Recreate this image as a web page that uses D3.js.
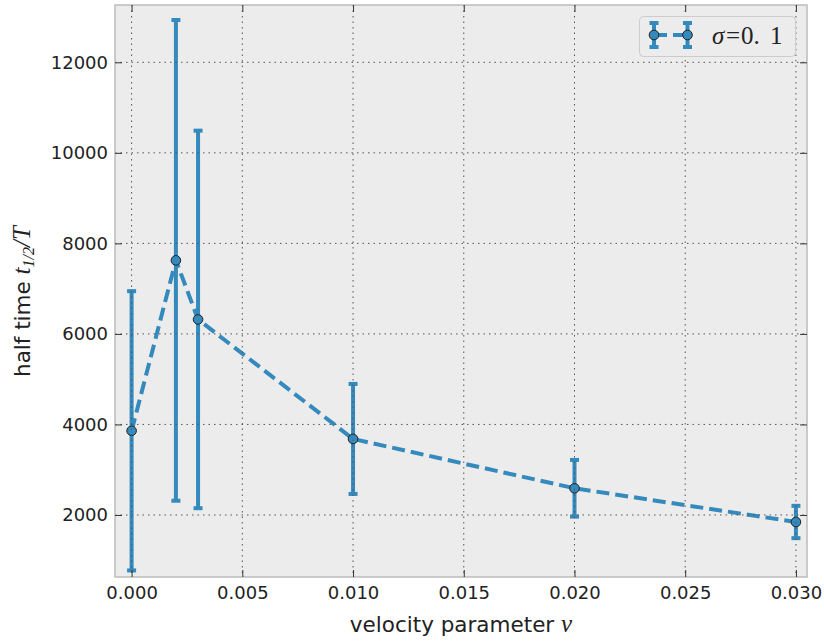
<!DOCTYPE html>
<html>
<head>
<meta charset="utf-8">
<script src="https://cdn.jsdelivr.net/npm/d3@7"></script>
<style>
  body { margin: 0; background: #fff; }
  svg { display: block; }
</style>
</head>
<body>
<div id="chart"></div>
<script>
// ===== data =====
const velocity = [0, 0.002, 0.003, 0.010, 0.020, 0.030];
const halfTime = [3860, 7625, 6320, 3680, 2590, 1845];
const halfTimeErr = [3085, 5310, 4170, 1215, 626, 357];
const xTicks = [0, 0.005, 0.010, 0.015, 0.020, 0.025, 0.030];
const yTicks = [2000, 4000, 6000, 8000, 10000, 12000];

// ===== layout =====
const W = 824, H = 644;
const plot = { left: 115, right: 807, top: 5, bottom: 577 };
const blue = "#348ABD";

const svg = d3.select("#chart").append("svg")
  .attr("width", W)
  .attr("height", H);

const x = d3.scaleLinear().domain([-0.00075, 0.0305]).range([plot.left, plot.right]);
const y = d3.scaleLinear().domain([630, 13266]).range([plot.bottom, plot.top]);

// background
svg.append("rect")
  .attr("x", plot.left).attr("y", plot.top)
  .attr("width", plot.right - plot.left)
  .attr("height", plot.bottom - plot.top)
  .style("fill", "#ececec");

svg.append("clipPath").attr("id", "clip")
  .append("rect")
  .attr("x", plot.left).attr("y", plot.top)
  .attr("width", plot.right - plot.left)
  .attr("height", plot.bottom - plot.top);

const data = velocity.map((v, i) => ({ v, t: halfTime[i], e: halfTimeErr[i] }));

const dataG = svg.append("g").attr("clip-path", "url(#clip)");

// dashed connecting line
dataG.append("path")
  .datum(data)
  .attr("d", d3.line().x(d => x(d.v)).y(d => y(d.t)))
  .style("fill", "none")
  .style("stroke", blue)
  .style("stroke-width", 4)
  .style("stroke-dasharray", "13,6");

// error bars
const bars = dataG.selectAll(".err").data(data).join("g").attr("class", "err");
bars.append("line")
  .attr("x1", d => x(d.v)).attr("x2", d => x(d.v))
  .attr("y1", d => y(d.t - d.e)).attr("y2", d => y(d.t + d.e))
  .style("stroke", blue).style("stroke-width", 4);
bars.selectAll(".cap")
  .data(d => [d.t - d.e, d.t + d.e].map(val => ({ v: d.v, val })))
  .join("line")
  .attr("class", "cap")
  .attr("x1", d => x(d.v) - 4.5).attr("x2", d => x(d.v) + 4.5)
  .attr("y1", d => y(d.val)).attr("y2", d => y(d.val))
  .style("stroke", blue).style("stroke-width", 4);

// markers
dataG.selectAll(".pt").data(data).join("circle")
  .attr("class", "pt")
  .attr("cx", d => x(d.v)).attr("cy", d => y(d.t))
  .attr("r", 4.8)
  .style("fill", blue)
  .style("stroke", "#222")
  .style("stroke-width", 1);

// grid (drawn above data like the old matplotlib default)
const grid = svg.append("g");
grid.selectAll(".gx").data(xTicks).join("line")
  .attr("x1", d => x(d)).attr("x2", d => x(d))
  .attr("y1", plot.top).attr("y2", plot.bottom)
  .style("stroke", "#555").style("stroke-width", 1)
  .style("stroke-dasharray", "1.5,4");
grid.selectAll(".gy").data(yTicks).join("line")
  .attr("x1", plot.left).attr("x2", plot.right)
  .attr("y1", d => y(d)).attr("y2", d => y(d))
  .style("stroke", "#555").style("stroke-width", 1)
  .style("stroke-dasharray", "1.5,4");

// frame
svg.append("rect")
  .attr("x", plot.left).attr("y", plot.top)
  .attr("width", plot.right - plot.left)
  .attr("height", plot.bottom - plot.top)
  .style("fill", "none")
  .style("stroke", "#bcbcbc")
  .style("stroke-width", 1.5);

// axes: ticks inward on all four sides
const tickFont = "DejaVu Sans, sans-serif";
function styleAxis(g, hideText) {
  g.select(".domain").remove();
  g.selectAll(".tick line").style("stroke", "#333").style("stroke-width", 1);
  g.selectAll(".tick text")
    .style("font-family", tickFont)
    .style("font-size", "18px")
    .style("fill", "#222");
  if (hideText) g.selectAll(".tick text").remove();
}

svg.append("g")
  .attr("transform", `translate(0,${plot.bottom})`)
  .call(d3.axisBottom(x).tickValues(xTicks).tickFormat(d3.format(".3f"))
    .tickSizeInner(-7).tickSizeOuter(0).tickPadding(9))
  .call(g => styleAxis(g, false));
svg.append("g")
  .attr("transform", `translate(0,${plot.top})`)
  .call(d3.axisTop(x).tickValues(xTicks).tickSizeInner(-7).tickSizeOuter(0))
  .call(g => styleAxis(g, true));
svg.append("g")
  .attr("transform", `translate(${plot.left},0)`)
  .call(d3.axisLeft(y).tickValues(yTicks).tickFormat(d3.format("d"))
    .tickSizeInner(-7).tickSizeOuter(0).tickPadding(7))
  .call(g => styleAxis(g, false));
svg.append("g")
  .attr("transform", `translate(${plot.right},0)`)
  .call(d3.axisRight(y).tickValues(yTicks).tickSizeInner(-7).tickSizeOuter(0))
  .call(g => styleAxis(g, true));

// axis labels
const mathFont = "Liberation Serif, DejaVu Serif, serif";
const xLabel = svg.append("text")
  .attr("x", (plot.left + plot.right) / 2)
  .attr("y", 632)
  .style("text-anchor", "middle")
  .style("fill", "#222");
xLabel.append("tspan")
  .style("font-family", tickFont).style("font-size", "21.5px")
  .text("velocity parameter ");
xLabel.append("tspan")
  .style("font-family", mathFont).style("font-style", "italic").style("font-size", "25px")
  .text("ν");

const yLabel = svg.append("text")
  .attr("transform", "translate(30,377) rotate(-90)")
  .style("fill", "#222");
yLabel.append("tspan")
  .style("font-family", tickFont).style("font-size", "21.5px")
  .text("half time ");
yLabel.append("tspan")
  .style("font-family", mathFont).style("font-style", "italic").style("font-size", "25px")
  .text("t");
yLabel.append("tspan")
  .attr("dy", 4)
  .style("font-family", mathFont).style("font-style", "italic").style("font-size", "16px")
  .text("1/2");
yLabel.append("tspan")
  .attr("dy", -4)
  .style("font-family", mathFont).style("font-style", "italic").style("font-size", "25px")
  .text("/T");

// legend
const legendSymbol = "σ";
const legendValue = ["0.", "1"];
const leg = svg.append("g");
leg.append("rect")
  .attr("x", 639.5).attr("y", 16.5)
  .attr("width", 156).attr("height", 40)
  .attr("rx", 4)
  .style("fill", "#ececec")
  .style("stroke", "#cccccc")
  .style("stroke-width", 1);
const hy = 35;
leg.append("line")
  .attr("x1", 654).attr("x2", 687.5)
  .attr("y1", hy).attr("y2", hy)
  .style("stroke", blue).style("stroke-width", 4)
  .style("stroke-dasharray", "13,6");
[654, 687.5].forEach(hx => {
  leg.append("line")
    .attr("x1", hx).attr("x2", hx).attr("y1", hy - 12).attr("y2", hy + 12)
    .style("stroke", blue).style("stroke-width", 4);
  [hy - 12, hy + 12].forEach(cy => leg.append("line")
    .attr("x1", hx - 4.5).attr("x2", hx + 4.5).attr("y1", cy).attr("y2", cy)
    .style("stroke", blue).style("stroke-width", 4));
  leg.append("circle")
    .attr("cx", hx).attr("cy", hy).attr("r", 4.8)
    .style("fill", blue).style("stroke", "#222").style("stroke-width", 1);
});
const lt = leg.append("text")
  .attr("y", 44)
  .style("font-family", mathFont).style("font-size", "25px").style("fill", "#222");
lt.append("tspan").attr("x", 712).style("font-style", "italic").text(legendSymbol);
lt.append("tspan").attr("x", 726).text("=");
lt.append("tspan").attr("x", 741).text(legendValue[0]);
lt.append("tspan").attr("x", 770).text(legendValue[1]);
</script>
</body>
</html>
